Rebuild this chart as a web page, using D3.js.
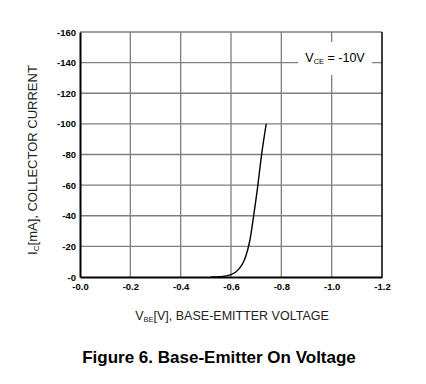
<!DOCTYPE html>
<html>
<head>
<meta charset="utf-8">
<script src="https://cdn.jsdelivr.net/npm/d3@7"></script>
<style>
  body { margin: 0; background: #fff; }
  svg text { font-family: Arial, "Liberation Sans", sans-serif; }
</style>
</head>
<body>
<svg id="chart" width="426" height="384"></svg>
<script>
// data (magnitudes; labels carry the minus sign)
var vbe = [0.52, 0.56, 0.60, 0.63, 0.65, 0.665, 0.675, 0.69, 0.706, 0.72, 0.74];
var ic  = [0, 0.2, 1.5, 5, 10, 17, 24, 40, 59, 78, 100];
var xTicks = [0, 0.2, 0.4, 0.6, 0.8, 1.0, 1.2];
var yTicks = [0, 20, 40, 60, 80, 100, 120, 140, 160];

var svg = d3.select("#chart"),
    plotLeft = 80, plotRight = 382, plotTop = 32, plotBottom = 277;

var x = d3.scaleLinear().domain([0, 1.2]).range([plotLeft, plotRight]);
var y = d3.scaleLinear().domain([0, 160]).range([plotBottom, plotTop]);

var grid = svg.append("g");
grid.selectAll("line.v")
    .data(xTicks.slice(1, -1))
    .enter().append("line")
    .attr("x1", function(d) { return x(d); })
    .attr("x2", function(d) { return x(d); })
    .attr("y1", plotTop).attr("y2", plotBottom)
    .attr("stroke", "#7f7f7f").attr("stroke-width", 1.3);
grid.selectAll("line.h")
    .data(yTicks.slice(1))
    .enter().append("line")
    .attr("x1", plotLeft).attr("x2", plotRight)
    .attr("y1", function(d) { return y(d); })
    .attr("y2", function(d) { return y(d); })
    .attr("stroke", "#7f7f7f").attr("stroke-width", 1.3);

// right border
svg.append("line")
    .attr("x1", plotRight).attr("x2", plotRight).attr("y1", plotTop).attr("y2", plotBottom)
    .attr("stroke", "#000").attr("stroke-width", 1.5);

// legend box
svg.append("rect")
    .attr("x", 298).attr("y", 42).attr("width", 74).attr("height", 33)
    .attr("fill", "#fff");
var leg = svg.append("text")
    .attr("x", 335).attr("y", 62)
    .attr("text-anchor", "middle")
    .attr("font-size", 12.5);
leg.append("tspan").text("V");
leg.append("tspan").attr("font-size", 7.5).attr("dy", 2).text("CE");
leg.append("tspan").attr("dy", -2).text(" = -10V");

// curve
var line = d3.line()
    .x(function(d) { return x(d[0]); })
    .y(function(d) { return y(d[1]); })
    .curve(d3.curveMonotoneX);
svg.append("path")
    .datum(d3.zip(vbe, ic))
    .attr("d", line)
    .attr("fill", "none")
    .attr("stroke", "#000")
    .attr("stroke-width", 1.4);

// axes
var xAxis = svg.append("g")
    .attr("transform", "translate(0," + plotBottom + ")")
    .call(d3.axisBottom(x).tickValues(xTicks).tickSize(0).tickPadding(6)
        .tickFormat(function(d) { return "-" + d3.format(".1f")(d); }));
var yAxis = svg.append("g")
    .attr("transform", "translate(" + plotLeft + ",0)")
    .call(d3.axisLeft(y).tickValues(yTicks).tickSize(0).tickPadding(4)
        .tickFormat(function(d) { return "-" + d; }));

[xAxis, yAxis].forEach(function(a) {
    a.select(".domain").attr("stroke", "#000").attr("stroke-width", 2);
    a.selectAll("text")
        .attr("font-family", "Arial, 'Liberation Sans', sans-serif")
        .attr("font-size", 9.5).attr("font-weight", "bold").attr("fill", "#000");
});

// axis titles
var xt = svg.append("text")
    .attr("x", 232).attr("y", 320)
    .attr("text-anchor", "middle").attr("font-size", 12.5).attr("fill", "#222");
xt.append("tspan").text("V");
xt.append("tspan").attr("font-size", 7.5).attr("dy", 2).text("BE");
xt.append("tspan").attr("dy", -2).text("[V], BASE-EMITTER VOLTAGE");

var yt = svg.append("text")
    .attr("transform", "translate(37,160) rotate(-90)")
    .attr("text-anchor", "middle").attr("font-size", 13).attr("fill", "#222");
yt.append("tspan").text("I");
yt.append("tspan").attr("font-size", 8).attr("dy", 2).text("C");
yt.append("tspan").attr("dy", -2).text("[mA], COLLECTOR CURRENT");

svg.append("text")
    .attr("x", 219).attr("y", 363)
    .attr("text-anchor", "middle")
    .attr("font-size", 17).attr("font-weight", "bold")
    .text("Figure 6. Base-Emitter On Voltage");
</script>
</body>
</html>
